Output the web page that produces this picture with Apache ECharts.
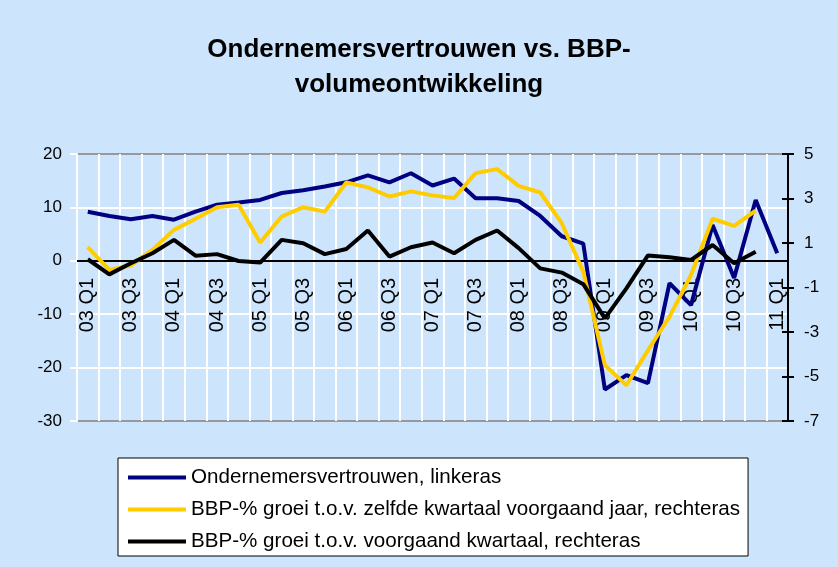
<!DOCTYPE html>
<html>
<head>
<meta charset="utf-8">
<script src="https://cdn.jsdelivr.net/npm/echarts@6/dist/echarts.min.js"></script>
<style>
  html, body { margin: 0; padding: 0; background: #cce5fd; }
  #chart { width: 838px; height: 567px; }
</style>
</head>
<body>
<div id="chart"></div>
<script>
const quarters = [
  '03 Q1', '03 Q2', '03 Q3', '03 Q4', '04 Q1', '04 Q2', '04 Q3', '04 Q4',
  '05 Q1', '05 Q2', '05 Q3', '05 Q4', '06 Q1', '06 Q2', '06 Q3', '06 Q4',
  '07 Q1', '07 Q2', '07 Q3', '07 Q4', '08 Q1', '08 Q2', '08 Q3', '08 Q4',
  '09 Q1', '09 Q2', '09 Q3', '09 Q4', '10 Q1', '10 Q2', '10 Q3', '10 Q4',
  '11 Q1'
]

// ondernemersvertrouwen (linkeras)
const vertrouwen = [
  9.2, 8.4, 7.8, 8.4, 7.7, 9.2, 10.5, 10.9, 11.4, 12.7, 13.2,
  13.9, 14.7, 16.0, 14.7, 16.4, 14.1, 15.4, 11.7, 11.7, 11.2, 8.4,
  4.6, 3.2, -24.1, -21.4, -22.9, -4.2, -8.3, 6.7, -3.2, 11.4, 1.4
]

// BBP groei t.o.v. zelfde kwartaal vorig jaar (rechteras)
const groeiJaar = [
  0.81, -0.21, 0.0, 0.69, 1.59, 2.09, 2.61, 2.72, 1.02, 2.19, 2.61,
  2.41, 3.72, 3.50, 3.09, 3.32, 3.14, 3.02, 4.14, 4.32, 3.57, 3.27,
  1.89, -0.3, -4.49, -5.39, -3.82, -2.31, -0.44, 2.09, 1.77, 2.46, null
]

// BBP groei t.o.v. vorig kwartaal (rechteras)
const groeiKwartaal = [
  0.27, -0.41, 0.09, 0.54, 1.14, 0.43, 0.50, 0.19, 0.12, 1.14, 0.99,
  0.50, 0.73, 1.56, 0.39, 0.81, 1.02, 0.54, 1.14, 1.56, 0.77, -0.14,
  -0.33, -0.85, -2.39, -1.04, 0.44, 0.36, 0.24, 0.91, 0.09, 0.61, null
]

const leftTicks = [-30, -20, -10, 0, 10, 20]
const rightTicks = [-7, -5, -3, -1, 1, 3, 5]

const seriesNames = [
  'Ondernemersvertrouwen, linkeras',
  'BBP-% groei t.o.v. zelfde kwartaal voorgaand jaar, rechteras',
  'BBP-% groei t.o.v. voorgaand kwartaal, rechteras'
]
const seriesColors = ['#000080', '#ffcc00', '#000000']

const font = 'Arial, "Liberation Sans", sans-serif'

// plot area
const gridTop = 154
const gridBottom = 146
const plotHeight = 567 - gridTop - gridBottom
// de categorie-as ligt op 0 van de linkeras
const zeroFromTop = plotHeight * (20 / 50)

const chart = echarts.init(document.getElementById('chart'))

chart.setOption({
  backgroundColor: '#cce5fd',
  animation: false,
  textStyle: { fontFamily: font },
  title: {
    text: 'Ondernemersvertrouwen vs. BBP-\nvolumeontwikkeling',
    left: 'center',
    top: 27,
    textStyle: {
      fontFamily: font,
      fontSize: 26,
      fontWeight: 'bold',
      color: '#000',
      lineHeight: 35,
    },
  },
  legend: {
    orient: 'vertical',
    left: 118,
    top: 458,
    padding: [9, 8, 4, 10],
    itemGap: 11,
    itemWidth: 58,
    itemHeight: 4,
    icon: 'rect',
    backgroundColor: '#fff',
    borderColor: '#000',
    borderWidth: 1,
    textStyle: { fontFamily: font, fontSize: 20.6, color: '#000' },
    data: seriesNames,
  },
  grid: { left: 77, right: 50, top: gridTop, bottom: gridBottom },
  xAxis: [
    {
      type: 'category',
      data: quarters,
      boundaryGap: true,
      position: 'bottom',
      offset: -(plotHeight - zeroFromTop),
      axisLine: { onZero: false, lineStyle: { color: '#000', width: 2 } },
      axisTick: { interval: 0, length: 5, lineStyle: { color: '#000', width: 2 } },
      axisLabel: {
        interval: 1,
        rotate: 90,
        margin: 17,
        fontSize: 20,
        color: '#000',
        fontFamily: font,
      },
      splitLine: { show: true, interval: 0, lineStyle: { color: '#fff', width: 2 } },
    },
    {
      type: 'category',
      data: quarters,
      boundaryGap: true,
      position: 'top',
      offset: -zeroFromTop,
      axisLine: { onZero: false, lineStyle: { color: '#000', width: 2 } },
      axisTick: { interval: 0, length: 5, lineStyle: { color: '#000', width: 2 } },
      axisLabel: { show: false },
      splitLine: { show: false },
    },
  ],
  yAxis: [
    {
      type: 'value',
      position: 'left',
      min: -30,
      max: 20,
      interval: 10,
      axisLine: { show: true, lineStyle: { color: '#fff', width: 2 } },
      axisTick: { show: true, length: 7, lineStyle: { color: '#fff', width: 2 } },
      axisLabel: {
        customValues: leftTicks,
        margin: 15,
        fontSize: 17,
        color: '#000',
        fontFamily: font,
      },
      splitLine: {
        show: true,
        lineStyle: { color: ['#999', '#fff', '#fff', '#fff', '#fff', '#999'], width: 2 },
      },
    },
    {
      type: 'value',
      position: 'right',
      min: -7,
      max: 5,
      axisLine: { show: true, onZero: false, lineStyle: { color: '#000', width: 2 } },
      axisTick: { show: true, customValues: rightTicks, length: 6, lineStyle: { color: '#000', width: 2 } },
      axisLabel: {
        customValues: rightTicks,
        margin: 16,
        fontSize: 17,
        color: '#000',
        fontFamily: font,
      },
      splitLine: { show: false },
    },
    {
      // binnenste helft van de tickjes op de rechteras
      type: 'value',
      position: 'right',
      min: -7,
      max: 5,
      axisLine: { show: false, onZero: false },
      axisTick: { show: true, inside: true, customValues: rightTicks, length: 6, lineStyle: { color: '#000', width: 2 } },
      axisLabel: { show: false },
      splitLine: { show: false },
    },
  ],
  series: [
    {
      name: seriesNames[0],
      type: 'line',
      yAxisIndex: 0,
      data: vertrouwen,
      showSymbol: false,
      color: seriesColors[0],
      lineStyle: { width: 4, color: seriesColors[0] },
    },
    {
      name: seriesNames[1],
      type: 'line',
      yAxisIndex: 1,
      data: groeiJaar,
      showSymbol: false,
      color: seriesColors[1],
      lineStyle: { width: 4, color: seriesColors[1] },
    },
    {
      name: seriesNames[2],
      type: 'line',
      yAxisIndex: 1,
      data: groeiKwartaal,
      showSymbol: false,
      color: seriesColors[2],
      lineStyle: { width: 4, color: seriesColors[2] },
    },
  ],
})

window.addEventListener('resize', () => chart.resize())
</script>
</body>
</html>
